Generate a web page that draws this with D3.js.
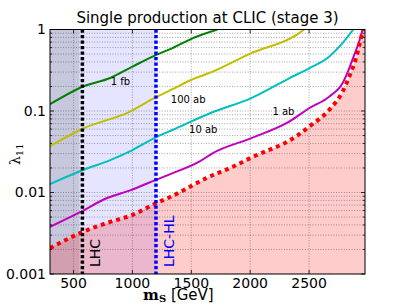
<!DOCTYPE html>
<html>
<head>
    <meta charset="utf-8">
    <script src="https://d3js.org/d3.v7.min.js"></script>
    <style>
        body { margin: 0; background: #fff; }
        text { font-family: "DejaVu Sans", sans-serif; }
    </style>
</head>

<body></body>

<script>
    // contour curves, mass in GeV vs lambda_11
    var m1fb   = [300, 581, 816, 1000, 1198, 1340, 1510, 1722];
    var lam1fb = [0.121, 0.20, 0.256, 0.35, 0.486, 0.59, 0.78, 1.0];

    var m100ab   = [300, 581, 970, 1200, 1340, 1496, 1680, 2005, 2401, 2458];
    var lam100ab = [0.037, 0.061, 0.097, 0.148, 0.185, 0.24, 0.303, 0.51, 0.873, 1.0];

    var m10ab   = [300, 581, 816, 1000, 1198, 1340, 1680, 2005, 2331, 2500, 2670, 2784, 2875];
    var lam10ab = [0.0127, 0.0189, 0.0251, 0.0332, 0.0475, 0.0585, 0.0964, 0.143, 0.252, 0.334, 0.464, 0.68, 1.0];

    var m1ab   = [300, 581, 760, 986, 1200, 1311, 1567, 1680, 2005, 2331, 2500, 2670, 2784, 2841, 2883, 2925, 2955];
    var lam1ab = [0.0038, 0.006, 0.00826, 0.0107, 0.0143, 0.0166, 0.0239, 0.0303, 0.0462, 0.074, 0.108, 0.150, 0.219, 0.334, 0.486, 0.708, 1.0];

    var mLimit   = [300, 581, 816, 1000, 1198, 1320, 1680, 1822, 2005, 2401, 2500, 2670, 2784, 2841, 2898, 2934, 2960];
    var lamLimit = [0.00207, 0.0033, 0.00438, 0.0053, 0.00736, 0.0088, 0.0163, 0.0198, 0.0266, 0.050, 0.0641, 0.103, 0.172, 0.264, 0.443, 0.708, 1.0];

    var lhcShade = 550;     // darker band
    var lhcMass = 575;
    var hlMass = 1200;

    var xTicks = [500, 1000, 1500, 2000, 2500];
    var yTicks = [0.001, 0.01, 0.1, 1];
    var yTickLabels = ["0.001", "0.01", "0.1", "1"];

    var curveLabels = [
        {text: "1 fb",   m: 816,  lam: 0.208},
        {text: "100 ab", m: 1326, lam: 0.125},
        {text: "10 ab",  m: 1481, lam: 0.0542},
        {text: "1 ab",   m: 2189, lam: 0.0893}
    ];

    var W = 407, H = 305;
    var pL = 50, pR = 365, pT = 29.5, pB = 274;

    var svg = d3.select("body").append("svg")
        .attr("width", W)
        .attr("height", H);

    var x = d3.scaleLinear().domain([300, 2975]).range([pL, pR]);
    var y = d3.scaleLog().domain([0.001, 1]).range([pB, pT]);

    svg.append("clipPath").attr("id", "clip")
      .append("rect")
        .attr("x", pL).attr("y", pT)
        .attr("width", pR - pL).attr("height", pB - pT);

    var plot = svg.append("g").attr("clip-path", "url(#clip)");

    // shaded regions
    plot.append("rect")
        .attr("x", x(300)).attr("y", pT)
        .attr("width", x(hlMass) - x(300)).attr("height", pB - pT)
        .attr("fill", "#0000ff").attr("fill-opacity", 0.1);
    plot.append("rect")
        .attr("x", x(300)).attr("y", pT)
        .attr("width", x(lhcShade) - x(300)).attr("height", pB - pT)
        .attr("fill", "#000").attr("fill-opacity", 0.13);

    var limitPts = mLimit.map(function(d, i) { return [d, lamLimit[i]]; });
    var areaPts = limitPts.concat([[x.domain()[1], y.domain()[1]]]);
    var area = d3.area()
        .x(function(d) { return x(d[0]); })
        .y0(pB)
        .y1(function(d) { return y(d[1]); })
        .curve(d3.curveMonotoneX);
    plot.append("path")
        .attr("d", area(areaPts))
        .attr("fill", "#ff0000").attr("fill-opacity", 0.2);

    // grid
    var minorY = [];
    [0.001, 0.01, 0.1].forEach(function(b) {
        for (var k = 2; k <= 9; k++) minorY.push(b * k);
    });
    plot.selectAll(".gy").data(yTicks.concat(minorY)).enter().append("line")
        .attr("x1", pL).attr("x2", pR)
        .attr("y1", function(d) { return y(d); })
        .attr("y2", function(d) { return y(d); })
        .attr("stroke", "#333").attr("stroke-width", 0.8)
        .attr("stroke-dasharray", "1,1.6").attr("stroke-opacity", 0.55);
    plot.selectAll(".gx").data(xTicks).enter().append("line")
        .attr("y1", pT).attr("y2", pB)
        .attr("x1", function(d) { return x(d); })
        .attr("x2", function(d) { return x(d); })
        .attr("stroke", "#333").attr("stroke-width", 0.8)
        .attr("stroke-dasharray", "1,1.6").attr("stroke-opacity", 0.55);

    // curves
    var line = d3.line()
        .x(function(d) { return x(d[0]); })
        .y(function(d) { return y(d[1]); })
        .curve(d3.curveMonotoneX);

    var series = [
        {m: m1fb, lam: lam1fb, color: "#008000"},
        {m: m100ab, lam: lam100ab, color: "#bfbf00"},
        {m: m10ab, lam: lam10ab, color: "#00bfbf"},
        {m: m1ab, lam: lam1ab, color: "#bf00bf"}
    ];
    series.forEach(function(s) {
        plot.append("path")
            .attr("d", line(s.m.map(function(d, i) { return [d, s.lam[i]]; })))
            .attr("fill", "none")
            .attr("stroke", s.color)
            .attr("stroke-width", 2);
    });

    plot.append("path")
        .attr("d", line(limitPts))
        .attr("fill", "none")
        .attr("stroke", "#ff0000")
        .attr("stroke-width", 4)
        .attr("stroke-dasharray", "4,4");

    // LHC lines
    plot.append("line")
        .attr("x1", x(lhcMass)).attr("x2", x(lhcMass))
        .attr("y1", pT).attr("y2", pB)
        .attr("stroke", "#000").attr("stroke-width", 3.5)
        .attr("stroke-dasharray", "3.3,2.2");
    plot.append("line")
        .attr("x1", x(hlMass)).attr("x2", x(hlMass))
        .attr("y1", pT).attr("y2", pB)
        .attr("stroke", "#0000ff").attr("stroke-width", 3.5)
        .attr("stroke-dasharray", "3.3,2.2");

    plot.selectAll(".clab").data(curveLabels).enter().append("text")
        .attr("x", function(d) { return x(d.m); })
        .attr("y", function(d) { return y(d.lam); })
        .attr("font-size", "10px")
        .attr("fill", "#000")
        .text(function(d) { return d.text; });

    svg.append("text")
        .attr("transform", "translate(" + (x(lhcMass) + 18) + "," + (pB - 7) + ") rotate(-90)")
        .attr("font-size", "14px")
        .attr("fill", "#000")
        .text("LHC");
    svg.append("text")
        .attr("transform", "translate(" + (x(hlMass) + 18) + "," + (pB - 7) + ") rotate(-90)")
        .attr("font-size", "14px")
        .attr("fill", "#0000ff")
        .text("LHC-HL");

    // frame and ticks
    svg.append("rect")
        .attr("x", pL).attr("y", pT)
        .attr("width", pR - pL).attr("height", pB - pT)
        .attr("fill", "none").attr("stroke", "#000").attr("stroke-width", 1);

    var ticks = svg.append("g").attr("stroke", "#000").attr("stroke-width", 0.8);
    xTicks.forEach(function(t) {
        ticks.append("line").attr("x1", x(t)).attr("x2", x(t)).attr("y1", pB).attr("y2", pB - 4);
        ticks.append("line").attr("x1", x(t)).attr("x2", x(t)).attr("y1", pT).attr("y2", pT + 4);
    });
    yTicks.forEach(function(t) {
        ticks.append("line").attr("x1", pL).attr("x2", pL + 4).attr("y1", y(t)).attr("y2", y(t));
        ticks.append("line").attr("x1", pR).attr("x2", pR - 4).attr("y1", y(t)).attr("y2", y(t));
    });
    minorY.forEach(function(t) {
        ticks.append("line").attr("x1", pL).attr("x2", pL + 2).attr("y1", y(t)).attr("y2", y(t));
        ticks.append("line").attr("x1", pR).attr("x2", pR - 2).attr("y1", y(t)).attr("y2", y(t));
    });

    svg.selectAll(".xl").data(xTicks).enter().append("text")
        .attr("x", function(d) { return x(d); })
        .attr("y", pB + 14)
        .attr("text-anchor", "middle")
        .attr("font-size", "14px")
        .text(function(d) { return d; });

    svg.selectAll(".yl").data(yTicks).enter().append("text")
        .attr("x", pL - 4)
        .attr("y", function(d) { return y(d); })
        .attr("dy", "0.35em")
        .attr("text-anchor", "end")
        .attr("font-size", "14px")
        .text(function(d, i) { return yTickLabels[i]; });

    // titles
    svg.append("text")
        .attr("x", (pL + pR) / 2)
        .attr("y", 22.5)
        .attr("text-anchor", "middle")
        .attr("font-size", "15px")
        .text("Single production at CLIC (stage 3)");

    var xl = svg.append("text")
        .attr("x", 143).attr("y", 300)
        .attr("font-size", "15px");
    xl.append("tspan").attr("font-family", "DejaVu Serif").attr("font-weight", "bold").text("m");
    xl.append("tspan").attr("font-family", "DejaVu Serif").attr("font-weight", "bold")
        .attr("font-size", "10px").attr("dy", 2).text("S");
    xl.append("tspan").attr("dy", -2).text(" [GeV]");

    var yl = svg.append("text")
        .attr("transform", "translate(20,165) rotate(-90)")
        .attr("font-size", "14px");
    yl.append("tspan").attr("font-family", "DejaVu Serif").text("λ");
    yl.append("tspan").attr("font-family", "DejaVu Serif")
        .attr("font-size", "10px").attr("dy", 3).text("11");
</script>
</html>
